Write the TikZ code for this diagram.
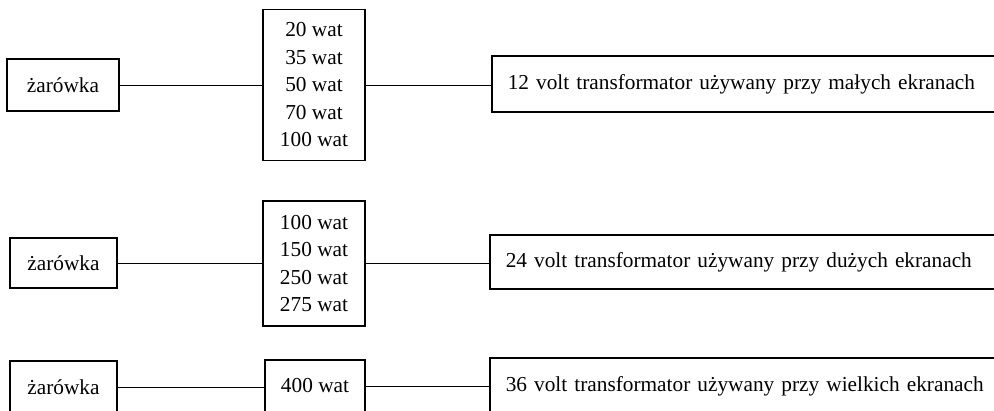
\documentclass[tikz,border=0pt]{standalone}
\usepackage{fontspec}
\setmainfont{Liberation Serif}
\begin{document}
\begin{tikzpicture}[x=1pt,y=-1pt,
  box/.style={draw,line width=1.6pt,inner sep=0pt,font=\fontsize{21.3}{27.5}\selectfont,align=center},
  wide/.style={draw,line width=1.6pt,inner xsep=16pt,inner ysep=0pt,font=\fontsize{21.3}{27.5}\selectfont,anchor=west,align=left},
  wire/.style={line width=1pt}]
\useasboundingbox (0,0) rectangle (994,410);
\clip (0,0) rectangle (994,410);
% row 1
\node[box,minimum width=112pt,minimum height=52pt] (z1) at (63,85) {żarówka};
\node[box,minimum width=102pt,minimum height=151pt] (w1) at (314,85) {20 wat\\35 wat\\50 wat\\70 wat\\100 wat};
\node[wide,minimum height=56pt,text width=500pt] (r1) at (491,84) {12 volt transformator używany przy małych ekranach};
% row 2
\node[box,minimum width=107pt,minimum height=50pt] (z2) at (63.5,263) {żarówka};
\node[box,minimum width=102pt,minimum height=125pt] (w2) at (314,263.5) {100 wat\\150 wat\\250 wat\\275 wat};
\node[wide,minimum height=54pt,text width=500pt] (r2) at (489,262) {24 volt transformator używany przy dużych ekranach};
% row 3
\node[box,minimum width=107pt,minimum height=52pt] (z3) at (63.5,387) {żarówka};
\node[box,minimum width=100pt,minimum height=52pt] (w3) at (315,386) {400 wat};
\node[wide,minimum height=56pt,text width=500pt] (r3) at (489,386) {36 volt transformator używany przy wielkich ekranach};
% wires
\draw[wire] (z1.east) -- (w1.west |- z1.east);
\draw[wire] (w1.east) -- (r1.west |- w1.east);
\draw[wire] (z2.east) -- (w2.west |- z2.east);
\draw[wire] (w2.east) -- (r2.west |- w2.east);
\draw[wire] (z3.east) -- (w3.west |- z3.east);
\draw[wire] (w3.east) -- (r3.west |- w3.east);
\end{tikzpicture}
\end{document}
